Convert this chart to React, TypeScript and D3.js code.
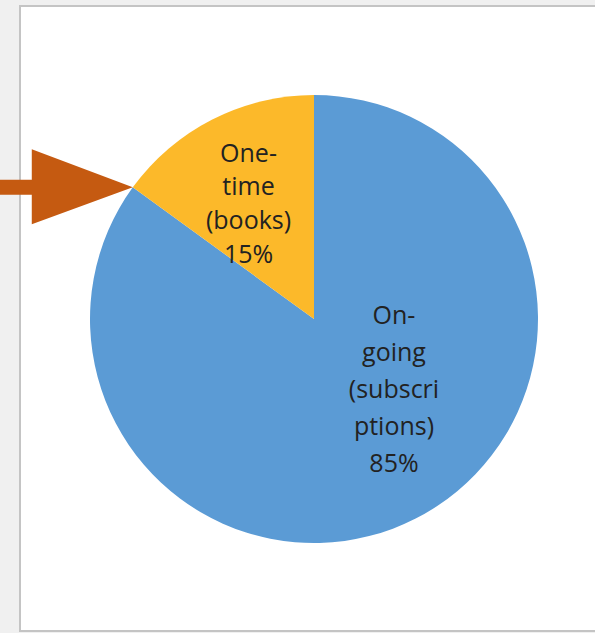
import React from "react";
import * as d3 from "d3";

const categories = ["On-going (subscriptions)", "One-time (books)"];
const values = [85, 15];
const labelLines = [
  ["On-", "going", "(subscri", "ptions)", "85%"],
  ["One-", "time", "(books)", "15%"],
];
const colors = ["#5b9bd5", "#fcb92a"];

const W = 595;
const H = 633;

export default function App() {
  const cx = 314;
  const cy = 319;
  const r = 224;
  const pie = d3.pie<number>().sort(null).value((d) => d);
  const arcs = pie(values);
  const arc = d3.arc<d3.PieArcDatum<number>>().innerRadius(0).outerRadius(r);
  // label anchor positions (Excel-like inside labels)
  const labelArc = d3.arc<d3.PieArcDatum<number>>().innerRadius(0).outerRadius(2 * 0.585 * r);
  const adjust = [
    [20.5, -38],
    [-6, 10],
  ];
  const lineHs = [37, 33.7];

  // arrow pointing to the slice boundary on the rim
  const tipAngle = arcs[1].startAngle;
  const tipX = cx + r * Math.sin(tipAngle);
  const tipY = cy - r * Math.cos(tipAngle);
  const headBaseX = tipX - 101;
  const arrowPath = [
    [0, tipY - 7.5],
    [headBaseX, tipY - 7.5],
    [headBaseX, tipY - 38],
    [tipX, tipY],
    [headBaseX, tipY + 37],
    [headBaseX, tipY + 7.5],
    [0, tipY + 7.5],
  ];

  return (
    <svg
      width={W}
      height={H}
      style={{ position: "fixed", left: 0, top: 0, display: "block" }}
      fontFamily="'Open Sans', Lato, sans-serif"
    >
      <rect x={0} y={0} width={W} height={H} fill="#f0f0f0" />
      <rect x={20} y={6} width={W - 20 + 2} height={H - 8} fill="#ffffff" stroke="#c4c4c4" strokeWidth={2} />
      <g transform={`translate(${cx},${cy})`}>
        {arcs.map((a, i) => (
          <path key={categories[i]} d={arc(a) || ""} fill={colors[i]} />
        ))}
        {arcs.map((a, i) => {
          const [lx, ly] = labelArc.centroid(a);
          const x = lx + adjust[i][0];
          const lines = labelLines[i];
          const lineH = lineHs[i];
          const y0 = ly + adjust[i][1] - ((lines.length - 1) * lineH) / 2;
          return (
            <text
              key={"l" + i}
              textAnchor="middle"
              fontSize={25}
              fill="#222222"
            >
              {lines.map((t, j) => (
                <tspan key={j} x={x} y={y0 + j * lineH}>
                  {t}
                </tspan>
              ))}
            </text>
          );
        })}
      </g>
      <path d={d3.line()(arrowPath as [number, number][]) + "Z"} fill="#c55a11" />
    </svg>
  );
}
